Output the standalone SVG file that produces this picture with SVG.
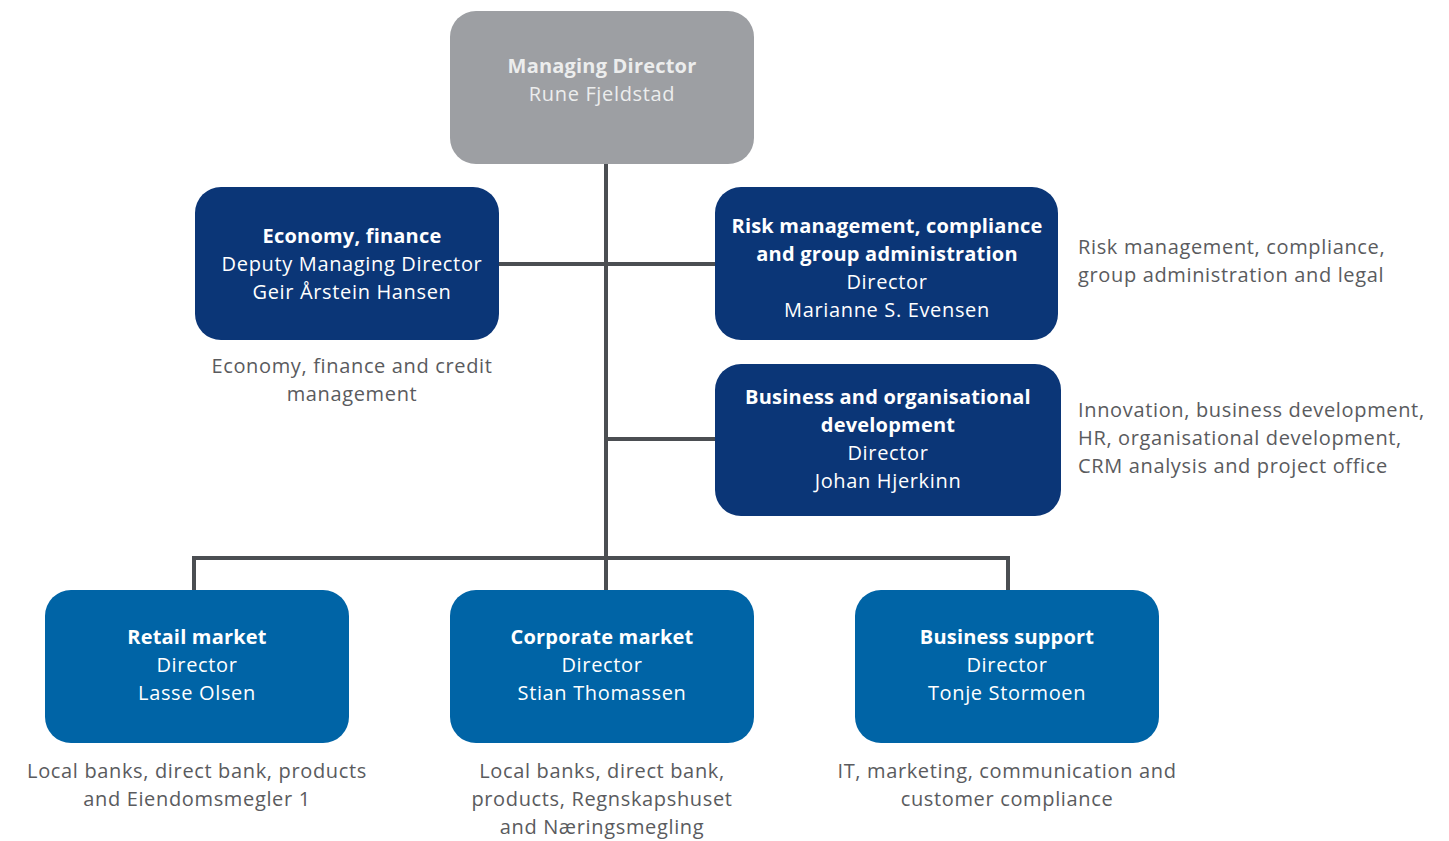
<svg xmlns="http://www.w3.org/2000/svg" width="1449" height="841" viewBox="0 0 1449 841">
  <style>
    .box-top { fill: #9d9fa3; }
    .box-dark { fill: #0b3677; }
    .box-blue { fill: #0064a6; }
    .link { stroke: #4b4e52; stroke-width: 4; fill: none; stroke-linejoin: miter; }
    text { font-family: "Open Sans", "Liberation Sans", sans-serif; font-size: 20px; letter-spacing: 0.65px; }
    .t { fill: #ffffff; text-anchor: middle; }
    .t-top { fill: #eceded; text-anchor: middle; }
    .b { font-weight: bold; letter-spacing: 0.2px; }
    .desc { fill: #5a5b5e; }
    .mid { text-anchor: middle; }
  </style>

  <!-- connectors -->
  <g id="connectors">
    <line class="link" x1="606" y1="164" x2="606" y2="560"/>
    <line class="link" x1="499" y1="264" x2="715" y2="264"/>
    <line class="link" x1="606" y1="439" x2="715" y2="439"/>
    <polyline class="link" points="194,590 194,558 1008,558 1008,590"/>
    <line class="link" x1="606" y1="558" x2="606" y2="590"/>
  </g>

  <!-- Managing Director -->
  <g id="managing-director">
    <rect class="box-top" x="450" y="11" width="304" height="153" rx="26"/>
    <text class="t-top b" x="602" y="73">Managing Director</text>
    <text class="t-top" x="602" y="101">Rune Fjeldstad</text>
  </g>

  <!-- Economy, finance -->
  <g id="economy-finance">
    <rect class="box-dark" x="195" y="187" width="304" height="153" rx="26"/>
    <text class="t b" x="352" y="243">Economy, finance</text>
    <text class="t" x="352" y="271">Deputy Managing Director</text>
    <text class="t" x="352" y="299">Geir Årstein Hansen</text>
    <text class="desc mid" x="352" y="373">Economy, finance and credit</text>
    <text class="desc mid" x="352" y="401">management</text>
  </g>

  <!-- Risk management -->
  <g id="risk-management">
    <rect class="box-dark" x="715" y="187" width="343" height="153" rx="26"/>
    <text class="t b" x="887" y="233">Risk management, compliance</text>
    <text class="t b" x="887" y="261">and group administration</text>
    <text class="t" x="887" y="289">Director</text>
    <text class="t" x="887" y="317">Marianne S. Evensen</text>
    <text class="desc" x="1078" y="254">Risk management, compliance,</text>
    <text class="desc" x="1078" y="282">group administration and legal</text>
  </g>

  <!-- Business and organisational development -->
  <g id="business-org-development">
    <rect class="box-dark" x="715" y="364" width="346" height="152" rx="26"/>
    <text class="t b" x="888" y="404">Business and organisational</text>
    <text class="t b" x="888" y="432">development</text>
    <text class="t" x="888" y="460">Director</text>
    <text class="t" x="888" y="488">Johan Hjerkinn</text>
    <text class="desc" x="1078" y="417">Innovation, business development,</text>
    <text class="desc" x="1078" y="445">HR, organisational development,</text>
    <text class="desc" x="1078" y="473">CRM analysis and project office</text>
  </g>

  <!-- Retail market -->
  <g id="retail-market">
    <rect class="box-blue" x="45" y="590" width="304" height="153" rx="26"/>
    <text class="t b" x="197" y="644">Retail market</text>
    <text class="t" x="197" y="672">Director</text>
    <text class="t" x="197" y="700">Lasse Olsen</text>
    <text class="desc mid" x="197" y="778">Local banks, direct bank, products</text>
    <text class="desc mid" x="197" y="806">and Eiendomsmegler 1</text>
  </g>

  <!-- Corporate market -->
  <g id="corporate-market">
    <rect class="box-blue" x="450" y="590" width="304" height="153" rx="26"/>
    <text class="t b" x="602" y="644">Corporate market</text>
    <text class="t" x="602" y="672">Director</text>
    <text class="t" x="602" y="700">Stian Thomassen</text>
    <text class="desc mid" x="602" y="778">Local banks, direct bank,</text>
    <text class="desc mid" x="602" y="806">products, Regnskapshuset</text>
    <text class="desc mid" x="602" y="834">and Næringsmegling</text>
  </g>

  <!-- Business support -->
  <g id="business-support">
    <rect class="box-blue" x="855" y="590" width="304" height="153" rx="26"/>
    <text class="t b" x="1007" y="644">Business support</text>
    <text class="t" x="1007" y="672">Director</text>
    <text class="t" x="1007" y="700">Tonje Stormoen</text>
    <text class="desc mid" x="1007" y="778">IT, marketing, communication and</text>
    <text class="desc mid" x="1007" y="806">customer compliance</text>
  </g>
</svg>
